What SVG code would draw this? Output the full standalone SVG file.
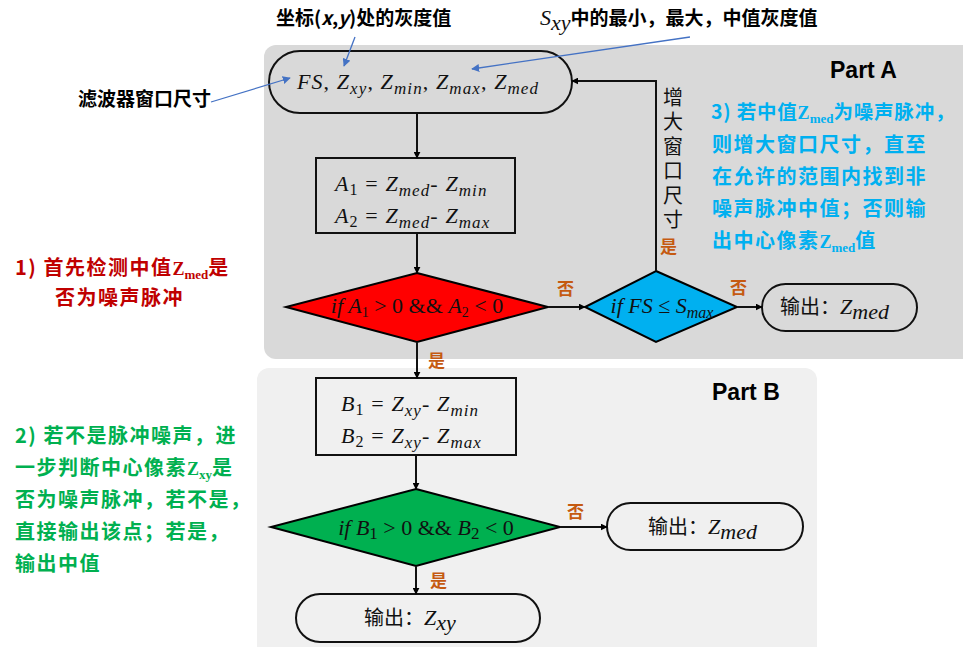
<svg xmlns="http://www.w3.org/2000/svg" width="963" height="647" viewBox="0 0 963 647">
<defs>
<marker id="ah" viewBox="0 0 10 10" refX="9" refY="5" markerWidth="7" markerHeight="7" markerUnits="userSpaceOnUse" orient="auto"><path d="M0,0 L10,5 L0,10 z" fill="#000"/></marker>
<marker id="bh" viewBox="0 0 10 10" refX="9" refY="5" markerWidth="8" markerHeight="8" markerUnits="userSpaceOnUse" orient="auto"><path d="M0,0 L10,5 L0,10 z" fill="#4472c4"/></marker>
<style>
.shape{stroke:#000;stroke-width:2;}
.term{fill:none;stroke:#111;stroke-width:2;}
.box{fill:none;stroke:#111;stroke-width:2;}
.math{font-family:"Liberation Serif","DejaVu Serif",serif;font-style:italic;font-size:22px;fill:#111;}
.wide{letter-spacing:1.1px;}
.up{font-style:normal;}
.cn{font-family:"Noto Sans CJK SC",sans-serif;font-size:20px;fill:#111;}
.yn{font-family:"Noto Sans CJK SC",sans-serif;font-size:17px;font-weight:bold;fill:#c55a11;}
.note{font-family:"Noto Sans CJK SC",sans-serif;font-size:19px;font-weight:bold;}
.big{font-size:20px;letter-spacing:1.5px;}
.zs{font-family:"Liberation Serif",serif;font-weight:bold;letter-spacing:0;}
.part{font-family:"Liberation Sans",Arial,sans-serif;font-size:23px;font-weight:bold;fill:#000;}
.conn{stroke:#111;stroke-width:2;fill:none;marker-end:url(#ah);}
.ann{stroke:#4472c4;stroke-width:1.3;fill:none;marker-end:url(#bh);}
</style>
</defs>

<rect x="264" y="45" width="712" height="314" rx="12" fill="#d9d9d9"/>
<rect x="257" y="368" width="560" height="290" rx="12" fill="#f0f0f0"/>

<text class="part" x="830" y="78">Part A</text>
<text class="part" x="712" y="400">Part B</text>

<g id="start">
<rect class="term" x="269" y="51" width="303" height="62" rx="31"/>
<text class="math wide" x="418" y="89" text-anchor="middle" font-size="23">FS<tspan class="up">, </tspan>Z<tspan font-size="17" dy="5">xy</tspan><tspan class="up" dy="-5">, </tspan>Z<tspan font-size="17" dy="5">min</tspan><tspan class="up" dy="-5">, </tspan>Z<tspan font-size="17" dy="5">max</tspan><tspan class="up" dy="-5">, </tspan>Z<tspan font-size="17" dy="5">med</tspan></text>
</g>

<g id="rectA">
<rect class="box" x="316" y="158" width="199" height="75"/>
<text class="math wide" x="335" y="191">A<tspan font-size="16" dy="4" class="up">1</tspan><tspan dy="-4" class="up">&#160;=&#160;</tspan>Z<tspan font-size="17" dy="5">med</tspan><tspan dy="-5" class="up">-&#160;</tspan>Z<tspan font-size="17" dy="5">min</tspan></text>
<text class="math wide" x="335" y="223">A<tspan font-size="16" dy="4" class="up">2</tspan><tspan dy="-4" class="up">&#160;=&#160;</tspan>Z<tspan font-size="17" dy="5">med</tspan><tspan dy="-5" class="up">-&#160;</tspan>Z<tspan font-size="17" dy="5">max</tspan></text>
</g>

<g id="decA">
<polygon class="shape" points="417,273 548,307 417,342 286,307" fill="#ff0000"/>
<text class="math" x="417" y="313" text-anchor="middle" font-size="20">if A<tspan font-size="14" dy="4" class="up">1</tspan><tspan dy="-4" class="up"> &gt; 0 &amp;&amp; </tspan>A<tspan font-size="14" dy="4" class="up">2</tspan><tspan dy="-4" class="up"> &lt; 0</tspan></text>
</g>

<g id="decFS">
<polygon class="shape" points="656,271 737,307 656,342 585,307" fill="#00b0f0"/>
<text class="math" x="662" y="313" text-anchor="middle" font-size="21">if FS <tspan class="up">≤</tspan> S<tspan font-size="16" dy="5">max</tspan></text>
</g>

<g id="outA">
<rect class="term" x="762" y="284" width="155" height="47" rx="23.5"/>
<text x="780" y="314"><tspan class="cn">输出：</tspan><tspan class="math" font-size="23">Z</tspan><tspan class="math" font-size="17" dy="5">med</tspan></text>
</g>

<g id="rectB">
<rect class="box" x="316" y="378" width="200" height="77"/>
<text class="math wide" x="341" y="411">B<tspan font-size="16" dy="4" class="up">1</tspan><tspan dy="-4" class="up">&#160;=&#160;</tspan>Z<tspan font-size="17" dy="5">xy</tspan><tspan dy="-5" class="up">-&#160;</tspan>Z<tspan font-size="17" dy="5">min</tspan></text>
<text class="math wide" x="341" y="443">B<tspan font-size="16" dy="4" class="up">2</tspan><tspan dy="-4" class="up">&#160;=&#160;</tspan>Z<tspan font-size="17" dy="5">xy</tspan><tspan dy="-5" class="up">-&#160;</tspan>Z<tspan font-size="17" dy="5">max</tspan></text>
</g>

<g id="decB">
<polygon class="shape" points="416,489 560,527 416,566 271,527" fill="#00b050"/>
<text class="math" x="426" y="535" text-anchor="middle" font-size="24">if B<tspan font-size="17" dy="4" class="up">1</tspan><tspan dy="-4" class="up"> &gt; 0 &amp;&amp; </tspan>B<tspan font-size="17" dy="4" class="up">2</tspan><tspan dy="-4" class="up"> &lt; 0</tspan></text>
</g>

<g id="outB1">
<rect class="term" x="607" y="503" width="196" height="47" rx="23.5"/>
<text x="648" y="534"><tspan class="cn" font-size="21">输出：</tspan><tspan class="math" font-size="24">Z</tspan><tspan class="math" font-size="18" dy="5">med</tspan></text>
</g>

<g id="outB2">
<rect class="term" x="296" y="594" width="244" height="48" rx="24"/>
<text x="364" y="625"><tspan class="cn" font-size="21">输出：</tspan><tspan class="math" font-size="24">Z</tspan><tspan class="math" font-size="18" dy="5">xy</tspan></text>
</g>

<g id="connectors">
<line class="conn" x1="417" y1="113" x2="417" y2="158"/>
<line class="conn" x1="417" y1="233" x2="417" y2="273"/>
<line class="conn" x1="548" y1="307" x2="585" y2="307"/>
<polyline class="conn" points="656,271 656,81 572,81"/>
<line class="conn" x1="737" y1="307" x2="762" y2="307"/>
<line class="conn" x1="417" y1="342" x2="417" y2="378"/>
<line class="conn" x1="416" y1="455" x2="416" y2="489"/>
<line class="conn" x1="560" y1="527" x2="607" y2="527"/>
<line class="conn" x1="416" y1="566" x2="416" y2="594"/>
<line class="ann" x1="355" y1="37" x2="344" y2="66"/>
<line class="ann" x1="690" y1="37" x2="472" y2="69"/>
<line class="ann" x1="211" y1="102" x2="290" y2="78"/>
</g>

<text class="yn" x="557" y="295">否</text>
<text class="yn" x="730" y="294">否</text>
<text class="yn" x="660" y="253">是</text>
<text class="yn" x="428" y="367">是</text>
<text class="yn" x="567" y="518">否</text>
<text class="yn" x="430" y="587">是</text>

<text class="cn" font-size="19" writing-mode="vertical-rl" letter-spacing="4.5" x="673" y="87">增大窗口尺寸</text>

<text class="note" x="276" y="25" fill="#000" font-size="19">坐标(<tspan font-style="italic">x</tspan>,<tspan font-style="italic">y</tspan>)处的灰度值</text>
<text class="note" x="540" y="25" fill="#000"><tspan class="math" font-size="20" font-weight="normal" fill="#000">S</tspan><tspan class="math" font-size="14" font-weight="normal" dy="5" fill="#000">xy</tspan><tspan dy="-5">中的最小，最大，中值灰度值</tspan></text>
<text class="note" x="78" y="106" fill="#000">滤波器窗口尺寸</text>

<g>
<text class="note big" x="15" y="275" fill="#c00000">1) 首先检测中值<tspan class="zs" font-size="18">Z</tspan><tspan class="zs" font-size="13" dy="4">med</tspan><tspan dy="-4">是</tspan></text>
<text class="note big" x="55" y="305" fill="#c00000">否为噪声脉冲</text>
</g>

<g>
<text class="note big" x="15" y="443" fill="#00b050">2) 若不是脉冲噪声，进</text>
<text class="note big" x="15" y="475" fill="#00b050">一步判断中心像素<tspan class="zs" font-size="18">Z</tspan><tspan class="zs" font-size="13" dy="4">xy</tspan><tspan dy="-4">是</tspan></text>
<text class="note big" x="15" y="507" fill="#00b050">否为噪声脉冲，若不是，</text>
<text class="note big" x="15" y="539" fill="#00b050">直接输出该点；若是，</text>
<text class="note big" x="15" y="571" fill="#00b050">输出中值</text>
</g>

<g>
<text class="note" x="711" y="119" fill="#00b0f0" style="font-size:19.5px;letter-spacing:0.8px">3) 若中值<tspan class="zs" font-size="18">Z</tspan><tspan class="zs" font-size="13" dy="4">med</tspan><tspan dy="-4">为噪声脉冲，</tspan></text>
<text class="note big" x="712" y="152" fill="#00b0f0">则增大窗口尺寸，直至</text>
<text class="note big" x="712" y="184" fill="#00b0f0">在允许的范围内找到非</text>
<text class="note big" x="712" y="216" fill="#00b0f0">噪声脉冲中值；否则输</text>
<text class="note big" x="712" y="248" fill="#00b0f0">出中心像素<tspan class="zs" font-size="18">Z</tspan><tspan class="zs" font-size="13" dy="4">med</tspan><tspan dy="-4">值</tspan></text>
</g>
</svg>
